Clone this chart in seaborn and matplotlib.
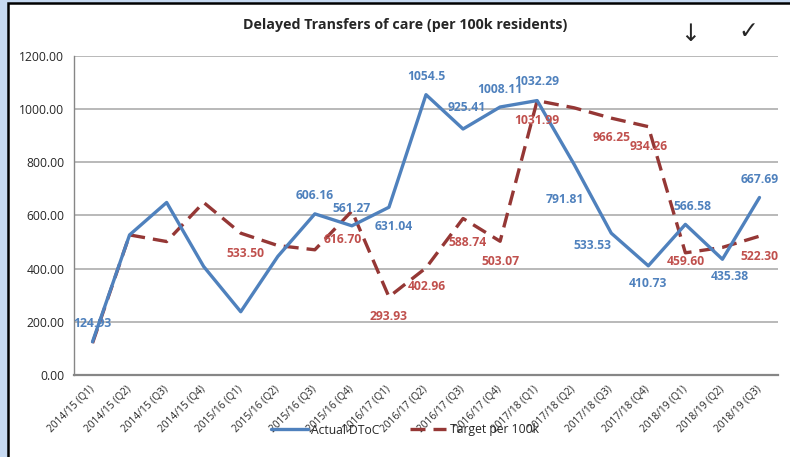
import matplotlib
matplotlib.use("Agg")
import numpy as np
import pandas as pd
import seaborn as sns
from matplotlib import pyplot as plt
from matplotlib.lines import Line2D
from matplotlib.patches import Rectangle

# data
quarters = [
    "2014/15 (Q1)", "2014/15 (Q2)", "2014/15 (Q3)", "2014/15 (Q4)",
    "2015/16 (Q1)", "2015/16 (Q2)", "2015/16 (Q3)", "2015/16 (Q4)",
    "2016/17 (Q1)", "2016/17 (Q2)", "2016/17 (Q3)", "2016/17 (Q4)",
    "2017/18 (Q1)", "2017/18 (Q2)", "2017/18 (Q3)", "2017/18 (Q4)",
    "2018/19 (Q1)", "2018/19 (Q2)", "2018/19 (Q3)",
]
actual = [124.93, 527, 649, 408, 238, 446, 606.16, 561.27, 631.04, 1054.5,
          925.41, 1008.11, 1032.29, 791.81, 533.53, 410.73, 566.58, 435.38, 667.69]
target = [120, 527, 502, 649, 533.50, 487, 471, 616.70, 293.93, 402.96,
          588.74, 503.07, 1031.99, 1005, 966.25, 934.26, 459.60, 480, 522.30]

# which points carry a data label, and where the label sits (pixels)
actual_lab = {0: (0, 18), 6: (0, 18), 7: (0, 17), 8: (5, -19), 9: (0, 18),
              10: (4, 21), 11: (0, 18), 12: (0, 19), 13: (-9, -35), 14: (-19, -12),
              15: (0, -18), 16: (7, 18), 17: (7, -17), 18: (0, 18)}
target_lab = {4: (5, -20), 7: (-9, -28), 8: (0, -20), 9: (1, -19), 10: (5, -24),
              11: (0, -20), 12: (0, -20), 14: (0, -19), 15: (0, -20), 16: (0, -9),
              18: (0, -20)}

BLUE = "#4F81BD"
DARKRED = "#953735"
LABRED = "#C0504D"
GRID = "#A6A6A6"
AXC = "#868686"

sns.set_style("white")
plt.rcParams["font.family"] = ["Open Sans", "DejaVu Sans"]

W, H = 790, 457
fig = plt.figure(figsize=(W / 100, H / 100), dpi=100)
fig.patch.set_facecolor("#C6D9F1")
# white chart area with black frame, cut off at right and bottom like the screenshot
fig.patches.append(Rectangle((8 / W, -0.1), 1.1, 1.1 - 3 / H, transform=fig.transFigure,
                             facecolor="white", edgecolor="black", linewidth=1.8, zorder=-1))

ax = fig.add_axes([74 / W, (H - 375) / H, 704 / W, (375 - 56) / H])
ax.set_facecolor("white")

df = pd.DataFrame({"Quarter": quarters, "Actual DToC": actual, "Target per 100k": target})

sns.lineplot(data=df, x="Quarter", y="Actual DToC", ax=ax, color=BLUE,
             linewidth=2.4, sort=False, zorder=3)
sns.lineplot(data=df, x="Quarter", y="Target per 100k", ax=ax, color=DARKRED,
             linewidth=2.4, sort=False, dashes=False, zorder=2)
ax.lines[-1].set_dashes((4.5, 2.4))

for i, (dx, dy) in actual_lab.items():
    ax.annotate("%g" % actual[i], (i, actual[i]), xytext=(dx, dy),
                textcoords="offset pixels", ha="center", va="center",
                color=BLUE, fontsize=8.7, fontweight="bold", zorder=5)
for i, (dx, dy) in target_lab.items():
    ax.annotate("%.2f" % target[i], (i, target[i]), xytext=(dx, dy),
                textcoords="offset pixels", ha="center", va="center",
                color=LABRED, fontsize=8.7, fontweight="bold", zorder=5)

ax.set_xlim(-0.5, len(quarters) - 0.5)
ax.set_ylim(0, 1200)
ax.set_yticks(np.arange(0, 1201, 200))
ax.set_yticklabels(["%.2f" % v for v in np.arange(0, 1201, 200)], fontsize=8.7)
ax.set_xticks(range(len(quarters)))
ax.set_xticklabels(quarters, rotation=45, ha="right", va="center",
                   rotation_mode="anchor", fontsize=7.3)
ax.set_xticks(np.arange(-0.5, len(quarters), 1), minor=True)
ax.tick_params(axis="x", which="major", length=0, pad=9)
ax.tick_params(axis="x", which="minor", length=4, color=AXC, width=1)
ax.tick_params(axis="y", length=4, color=AXC, width=1, pad=3)
ax.set_xlabel("")
ax.set_ylabel("")
ax.grid(axis="y", color=GRID, linewidth=1.1)
ax.grid(axis="x", visible=False)
for s in ["top", "right"]:
    ax.spines[s].set_visible(False)
ax.spines["left"].set_color(AXC)
ax.spines["bottom"].set_color(AXC)
ax.spines["bottom"].set_linewidth(1.6)
ax.spines["left"].set_linewidth(1)

fig.text(405 / W, 1 - 25 / H, "Delayed Transfers of care (per 100k residents)",
         ha="center", va="center", fontsize=10.3, fontweight="bold")
fig.text(690 / W, 1 - 34 / H, "\u2193", ha="center", va="center", fontsize=17,
         family=["DejaVu Sans"])
fig.text(748 / W, 1 - 31 / H, "\u2713", ha="center", va="center", fontsize=17,
         family=["DejaVu Sans"])

handles = [Line2D([], [], color=BLUE, linewidth=2.4),
           Line2D([], [], color=DARKRED, linewidth=2.4, dashes=(4.5, 2.4))]
fig.legend(handles, ["Actual DToC", "Target per 100k"], loc="center",
           bbox_to_anchor=(405 / W, 1 - 430 / H), ncol=2, frameon=False,
           fontsize=8.7, handlelength=3.0, columnspacing=2.5, handletextpad=0.3)

fig.savefig("out.png", dpi=100)
